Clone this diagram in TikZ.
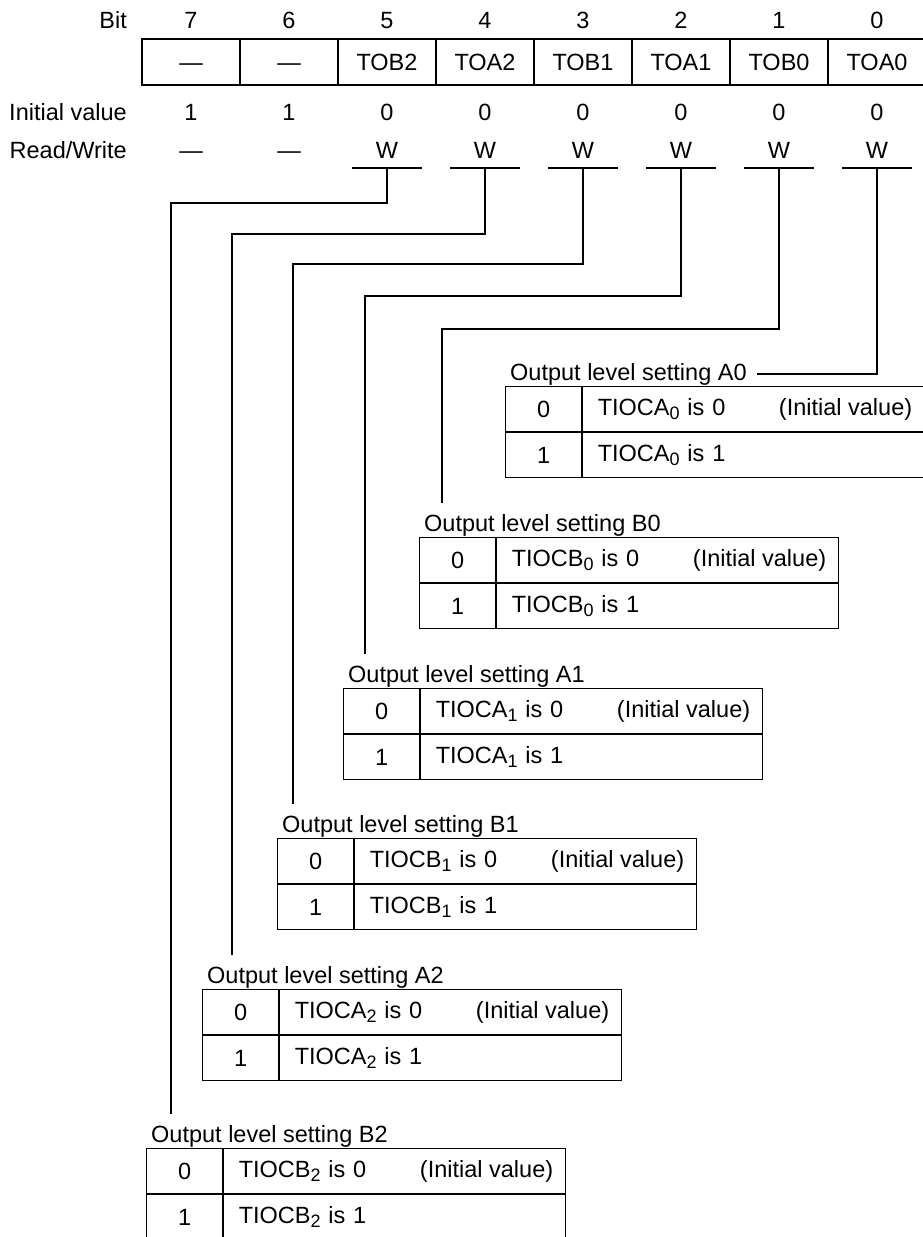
\documentclass[tikz,border=0pt]{standalone}
\usepackage{fontspec}
\setmainfont{Liberation Sans}
\usetikzlibrary{positioning,calc}
\newcommand{\lowsub}[1]{\raisebox{-4pt}{\fontsize{18}{18}\selectfont #1}}
\tikzset{
  txt/.style={inner sep=0pt, font=\fontsize{23.5}{28}\selectfont},
  captxt/.style={txt, text height=17pt, text depth=0pt},
  hdr/.style={captxt, anchor=east},
  reg/.style={captxt, draw, line width=1.3pt, minimum width=98pt, minimum height=46pt},
  keycell/.style={txt, draw, line width=1.2pt, minimum width=76pt, minimum height=45pt, anchor=north west},
  valcell/.style={txt, draw, line width=1.2pt, minimum width=342pt, minimum height=45pt,
    text width=312pt, inner xsep=15pt, align=left, anchor=north west},
  lab/.style={txt, inner ysep=11pt, anchor=base west},
  wire/.style={line width=1.2pt},
}
\begin{document}
\begin{tikzpicture}[x=1pt, y=-1pt]
  \useasboundingbox (0,0) rectangle (923,1237);
  % row headings
  \node[hdr] (hbit) at (127,20) {Bit};
  \node[hdr] (hinit) at (127,112) {Initial value};
  \node[hdr] (hrw) at (127,150) {Read/Write};
  % register
  \foreach \b/\t/\v/\rw [count=\i] in {7/—/1/—, 6/—/1/—, 5/TOB2/0/W, 4/TOA2/0/W,
      3/TOB1/0/W, 2/TOA1/0/W, 1/TOB0/0/W, 0/TOA0/0/W} {
    \node[captxt] (n\b) at ({98*\i+93},20) {\b};
    \node[reg] (r\b) at ({98*\i+93},62) {\t};
    \node[captxt] (v\b) at ({98*\i+93},112) {\v};
    \node[captxt] (w\b) at ({98*\i+93},150) {\rw};
  }
  \foreach \b in {5,...,0} {
    \coordinate (u\b) at ($(w\b)+(0,18)$);
    \draw[wire] ($(u\b)+(-35,0)$) -- ($(u\b)+(35,0)$);
  }
  % setting tables
  \foreach \t/\x/\y/\s/\d in {A0/505/386/A/0, B0/419/537/B/0, A1/343/688/A/1,
      B1/277/838/B/1, A2/202/989/A/2, B2/146/1148/B/2} {
    \node[lab] (l\t) at (\x+5,\y-6) {Output level setting \t};
    \node[keycell] (k\t) at (\x,\y) {0};
    \node[valcell] (c\t) at (k\t.north east) {TIOC\s\lowsub{\d} is 0};
    \node[txt, anchor=east] (iv\t) at ($(c\t.east)+(-13,0)$) {(Initial value)};
    \node[keycell] (kk\t) at (k\t.south west) {1};
    \node[valcell] (cc\t) at (kk\t.north east) {TIOC\s\lowsub{\d} is 1};
  }
  % bit lines
  \coordinate (a0end) at ($(lA0.east)+(10,0)$);
  \draw[wire] (u0) |- (a0end);
  \foreach \b/\hy/\vx/\t in {5/203/171/B2, 4/234/232/A2, 3/264/293/B1,
      2/296/365/A1, 1/329/442/B0} {
    \coordinate (bend\b) at (\vx,\hy);
    \draw[wire] (u\b) |- (bend\b) -- (bend\b |- l\t.north);
  }
\end{tikzpicture}
\end{document}
